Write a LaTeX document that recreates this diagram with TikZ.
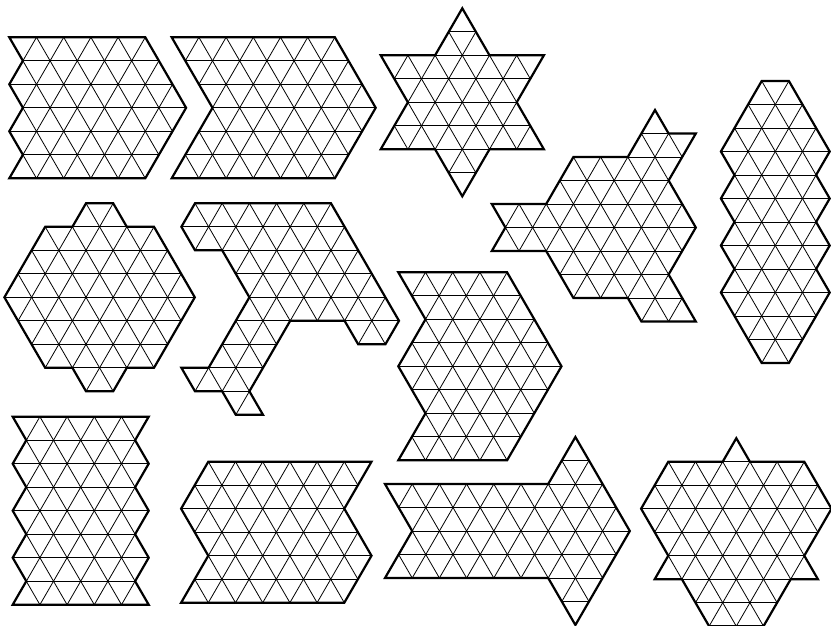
\documentclass[tikz,border=0pt]{standalone}
\usepackage{tikz}
\newcommand{\drawiamond}[2]{%
  % origin in px, corner list in lattice units (half side, row).
  \begin{scope}[shift={#1},x=13.6pt,y=-23.5pt]
    \begin{scope}
      \clip #2 -- cycle;
      \foreach \r in {-3,...,13}{\draw[gridline] (-14,\r) -- (20,\r);}
      \foreach \k in {-20,...,20}{%
        \draw[gridline] ({2*\k-3},-3) -- ++(17,17);
        \draw[gridline] ({2*\k-3},-3) -- ++(-17,17);
      }
    \end{scope}
    \draw[rim] #2 -- cycle;
  \end{scope}
}

\begin{document}
\begin{tikzpicture}[gridline/.style={line width=0.8pt},
  rim/.style={line width=2.2pt,line join=miter}]
  \useasboundingbox (0,0) rectangle (831pt,-625pt);
  \fill[white] (0,0) rectangle (831pt,-625pt);
  % top row
  \drawiamond{(9.3pt,-37.3pt)}{(0,0) -- (10,0) -- (13,3) -- (10,6) -- (0,6) -- (1,5) -- (0,4) -- (1,3) -- (0,2) -- (1,1)}
  \drawiamond{(171.7pt,-37.3pt)}{(0,0) -- (12,0) -- (15,3) -- (12,6) -- (0,6) -- (3,3)}
  \drawiamond{(462.3pt,-8.3pt)}{(0,0) -- (2,2) -- (6,2) -- (4,4) -- (6,6) -- (2,6) -- (0,8) -- (-2,6) -- (-6,6) -- (-4,4) -- (-6,2) -- (-2,2)}
  \drawiamond{(655pt,-110pt)}{(0,0) -- (1,1) -- (3,1) -- (1,3) -- (3,5) -- (1,7) -- (3,9) -- (-1,9) -- (-2,8) -- (-6,8) -- (-8,6) -- (-12,6) -- (-11,5) -- (-12,4) -- (-8,4) -- (-6,2) -- (-2,2)}
  \drawiamond{(761.7pt,-81pt)}{(0,0) -- (2,0) -- (5,3) -- (4,4) -- (5,5) -- (4,6) -- (5,7) -- (4,8) -- (5,9) -- (2,12) -- (0,12) -- (-3,9) -- (-2,8) -- (-3,7) -- (-2,6) -- (-3,5) -- (-2,4) -- (-3,3)}
  % middle row
  \drawiamond{(86pt,-203.3pt)}{(0,0) -- (2,0) -- (3,1) -- (5,1) -- (8,4) -- (5,7) -- (3,7) -- (2,8) -- (0,8) -- (-1,7) -- (-3,7) -- (-6,4) -- (-3,1) -- (-1,1)}
  \drawiamond{(195pt,-203.3pt)}{(0,0) -- (10,0) -- (15,5) -- (14,6) -- (12,6) -- (11,5) -- (7,5) -- (4,8) -- (5,9) -- (3,9) -- (2,8) -- (0,8) -- (-1,7) -- (1,7) -- (4,4) -- (2,2) -- (0,2) -- (-1,1)}
  \drawiamond{(398.3pt,-272.3pt)}{(0,0) -- (8,0) -- (12,4) -- (8,8) -- (0,8) -- (2,6) -- (0,4) -- (2,2)}
  % bottom row
  \drawiamond{(12.7pt,-416.7pt)}{(0,0) -- (10,0) -- (9,1) -- (10,2) -- (9,3) -- (10,4) -- (9,5) -- (10,6) -- (9,7) -- (10,8) -- (0,8) -- (1,7) -- (0,6) -- (1,5) -- (0,4) -- (1,3) -- (0,2) -- (1,1)}
  \drawiamond{(208.3pt,-461.7pt)}{(0,0) -- (12,0) -- (10,2) -- (12,4) -- (10,6) -- (-2,6) -- (0,4) -- (-2,2)}
  \drawiamond{(385pt,-484pt)}{(0,0) -- (12,0) -- (14,-2) -- (18,2) -- (14,6) -- (12,4) -- (0,4) -- (2,2)}
  \drawiamond{(668.3pt,-461.7pt)}{(0,0) -- (4,0) -- (5,-1) -- (6,0) -- (10,0) -- (12,2) -- (10,4) -- (11,5) -- (9,5) -- (7,7) -- (3,7) -- (1,5) -- (-1,5) -- (0,4) -- (-2,2)}
\end{tikzpicture}
\end{document}
